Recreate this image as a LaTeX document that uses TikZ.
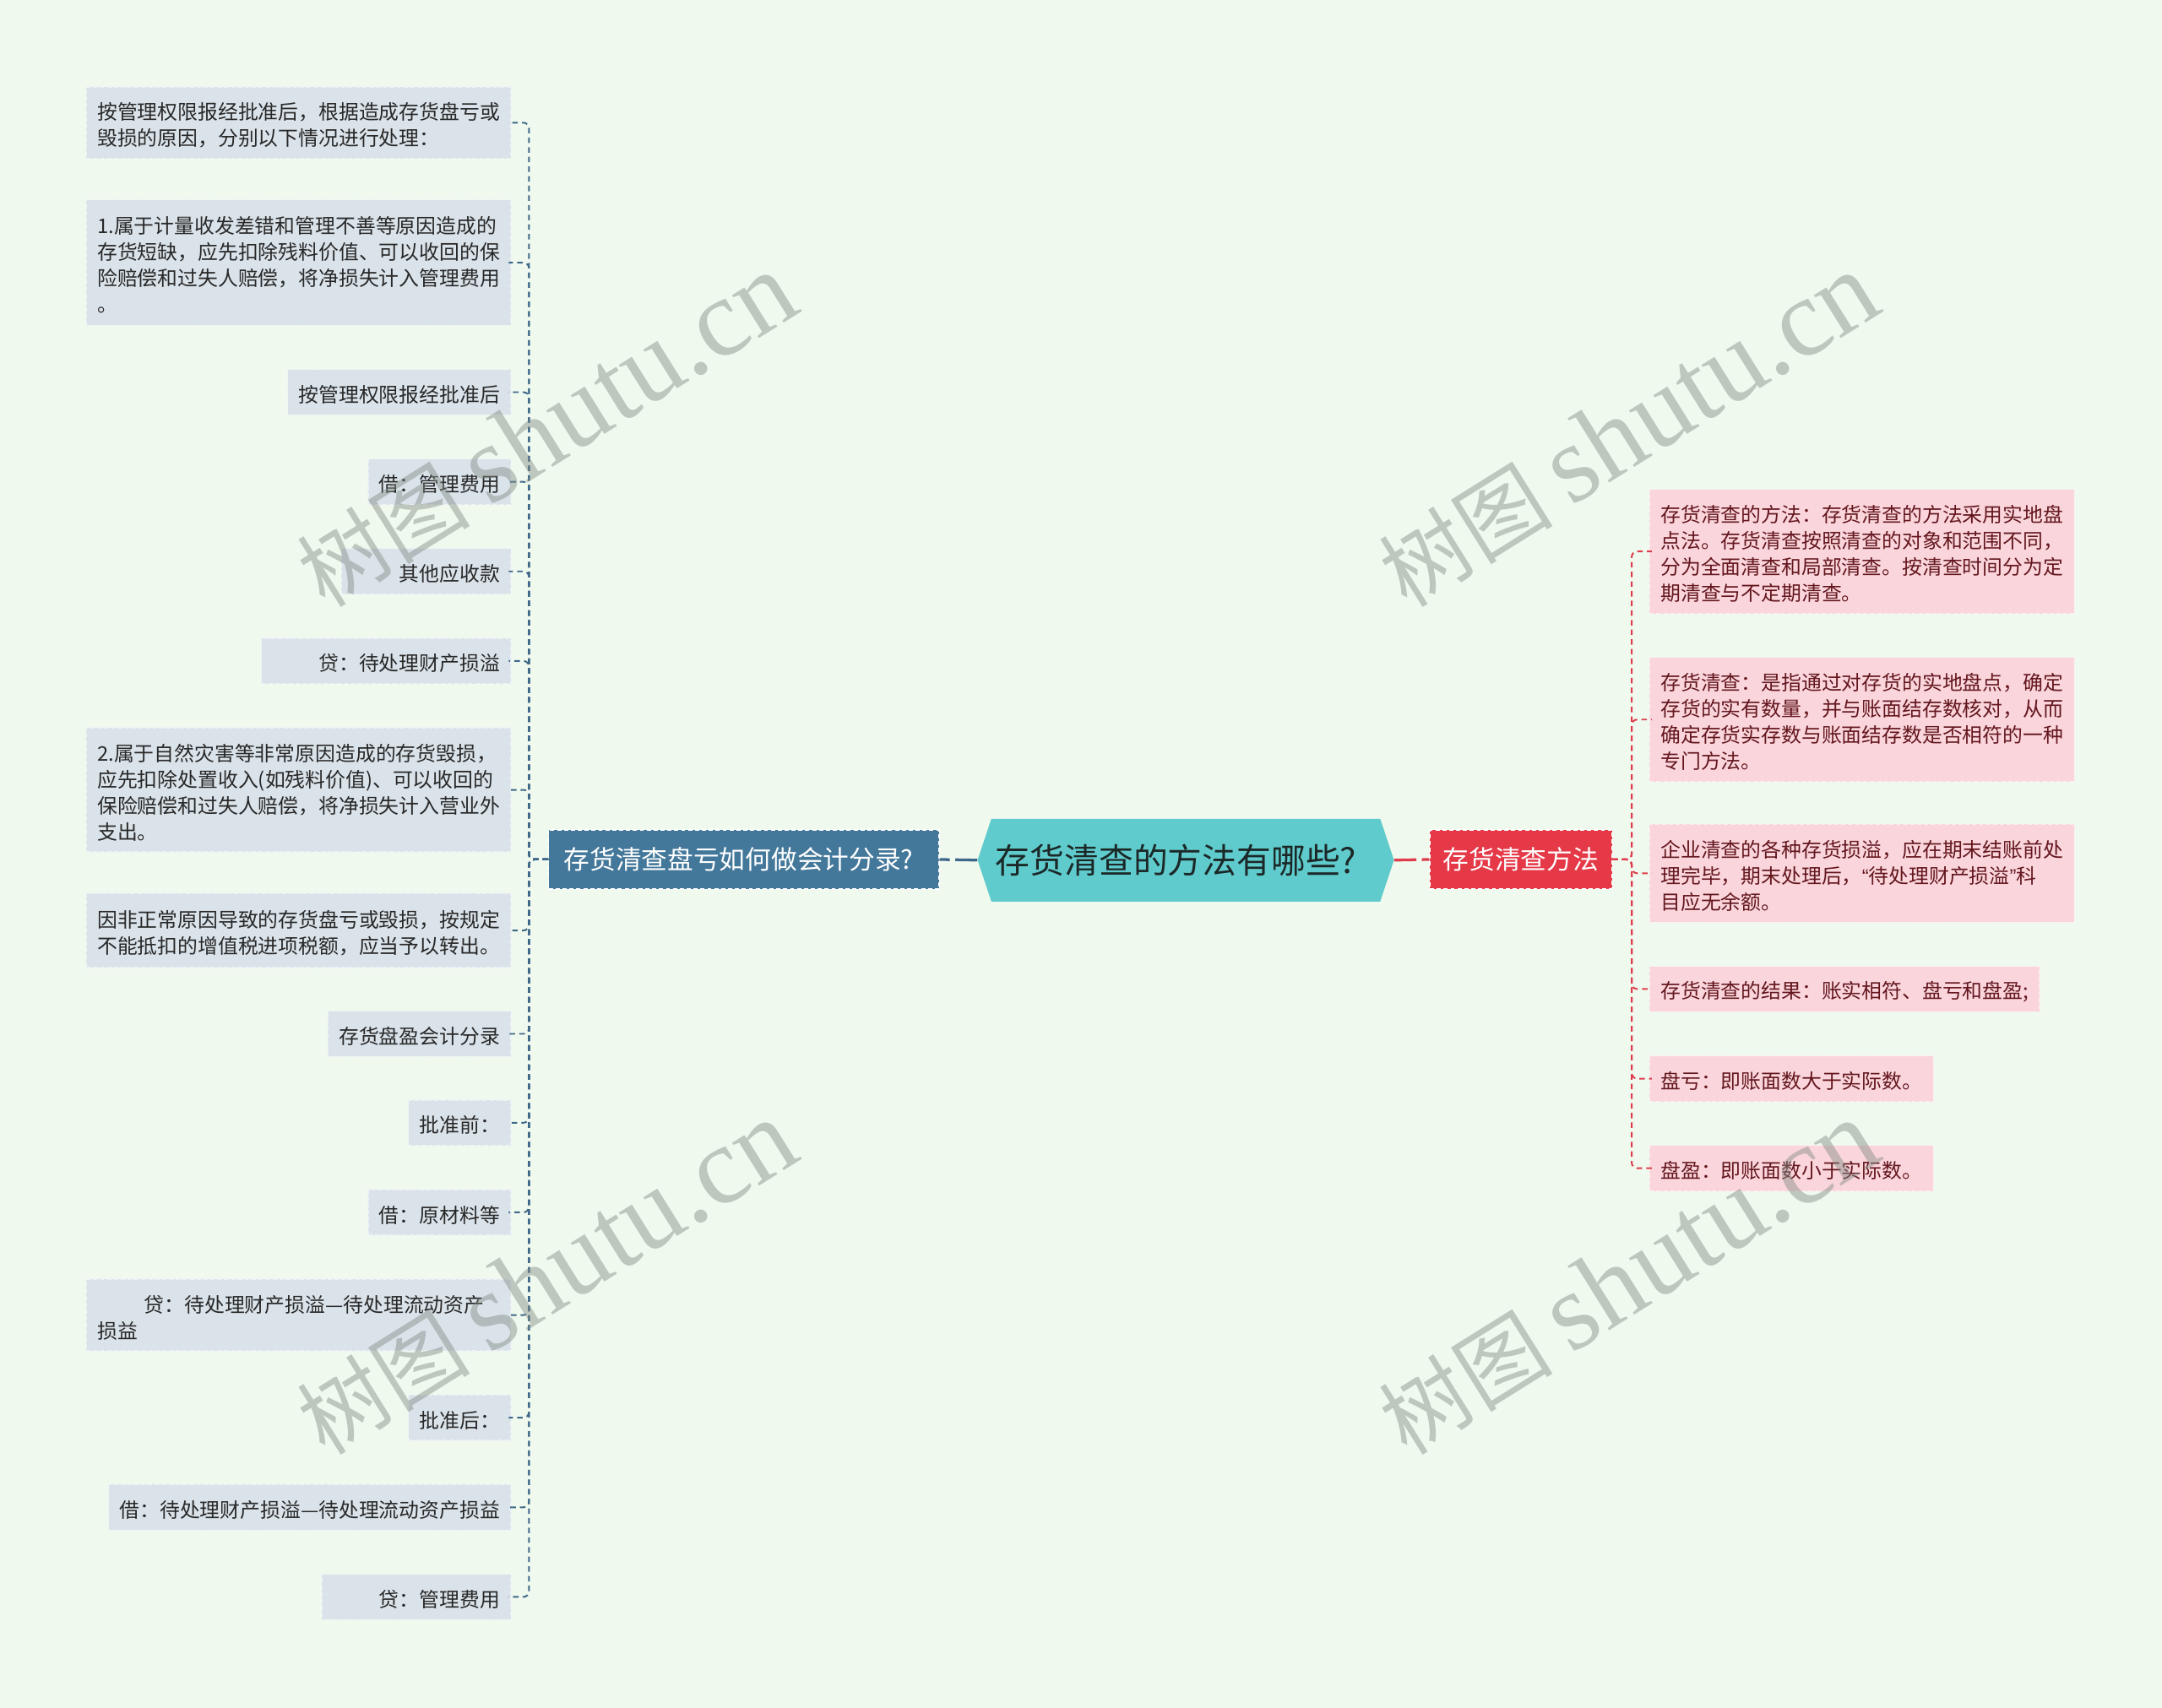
\documentclass[tikz,border=0pt]{standalone}
\usepackage{fontspec}
\setmainfont{Noto Sans CJK SC}
\newfontfamily\wmserif{Liberation Serif}
\newfontfamily\latq{Liberation Sans}
\definecolor{bg}{RGB}{240,249,238}
\definecolor{lfill}{RGB}{218,227,234}
\definecolor{ltext}{RGB}{40,40,40}
\definecolor{lmain}{RGB}{68,120,155}
\definecolor{lconn}{RGB}{62,104,138}
\definecolor{rootc}{RGB}{96,203,204}
\definecolor{roottext}{RGB}{28,40,40}
\definecolor{rmain}{RGB}{229,57,72}
\definecolor{rfill}{RGB}{250,214,220}
\definecolor{rtext}{RGB}{100,22,30}
\definecolor{rconn}{RGB}{222,60,76}
\definecolor{wmc}{RGB}{130,140,130}
\newcommand{\st}{\rule{0pt}{16pt}}
\newcommand{\wmtext}{\fontsize{63}{63}\selectfont 树图 {\wmserif\fontsize{80}{80}\selectfont shutu.cn}}
\begin{document}
\begin{tikzpicture}[x=1pt,y=-1pt,
  box/.style={dash pattern=on 3pt off 2pt, line width=0.8pt, inner xsep=8pt, inner ysep=0pt, minimum height=33pt, font=\fontsize{14.6}{19}\selectfont},
  lbox/.style={box, fill=lfill, draw=white!55!lfill, text=ltext, anchor=east},
  rbox/.style={box, fill=rfill, draw=white!55!rfill, text=rtext, anchor=west},
  multi/.style={text width=292pt, align=left},
  mainbox/.style={draw=white, dash pattern=on 3pt off 2pt, line width=0.8pt, text=white, font=\fontsize{18.8}{22}\selectfont, minimum height=43pt, inner ysep=0pt},
  lline/.style={draw=lconn, line width=1.2pt, dash pattern=on 4pt off 3pt, rounded corners=4pt},
  rline/.style={draw=rconn, line width=1.2pt, dash pattern=on 4pt off 3pt, rounded corners=4pt},
  wm/.style={text=wmc, opacity=0.45, rotate=32, inner sep=0pt}
]
\useasboundingbox (0,0) rectangle (1568,1239);
\fill[bg] (0,0) rectangle (1568,1239);

% root
\node[minimum width=302pt, minimum height=60pt, inner xsep=13pt, inner ysep=0pt, text width=276pt, align=left, text=roottext,
  font=\fontsize{25}{28}\selectfont,
  path picture={\fill[rootc] (path picture bounding box.west) -- ([xshift=10pt]path picture bounding box.north west) -- ([xshift=-10pt]path picture bounding box.north east) -- (path picture bounding box.east) -- ([xshift=-10pt]path picture bounding box.south east) -- ([xshift=10pt]path picture bounding box.south west) -- cycle;}]
  (root) at (860,624) {存货清查的方法有哪些?};

% main branches
\node[mainbox, fill=lmain, inner xsep=11pt, text width=261pt, align=left] (lm) at (539.5,623.5) {存货清查盘亏如何做会计分录?};
\node[mainbox, fill=rmain, minimum width=132pt, inner xsep=0pt] (rm) at (1103,623.5) {存货清查方法};

% left children
\node[lbox, multi, minimum height=52pt] (l1) at (371,89) {\st 按管理权限报经批准后，根据造成存货盘亏或\\毁损的原因，分别以下情况进行处理：};
\node[lbox, multi, minimum height=91pt] (l2) at (371,190.5) {\st 1.属于计量收发差错和管理不善等原因造成的\\存货短缺，应先扣除残料价值、可以收回的保\\险赔偿和过失人赔偿，将净损失计入管理费用\\。};
\node[lbox] (l3) at (371,284.5) {\st 按管理权限报经批准后};
\node[lbox] (l4) at (371,349.5) {\st 借：管理费用};
\node[lbox, text width=107pt, align=right] (l5) at (371,414.5) {\st 其他应收款};
\node[lbox, text width=165pt, align=right] (l6) at (371,479.5) {\st 贷：待处理财产损溢};
\node[lbox, multi, minimum height=90pt] (l7) at (371,573) {\st 2.属于自然灾害等非常原因造成的存货毁损，\\应先扣除处置收入(如残料价值)、可以收回的\\保险赔偿和过失人赔偿，将净损失计入营业外\\支出。};
\node[lbox, multi, minimum height=54pt] (l8) at (371,675) {\st 因非正常原因导致的存货盘亏或毁损，按规定\\不能抵扣的增值税进项税额，应当予以转出。};
\node[lbox] (l9) at (371,750) {\st 存货盘盈会计分录};
\node[lbox] (l10) at (371,814.5) {\st 批准前：};
\node[lbox] (l11) at (371,879.5) {\st 借：原材料等};
\node[lbox, multi, minimum height=52pt] (l12) at (371,954) {\st\hspace*{34pt}贷：待处理财产损溢—待处理流动资产\\损益};
\node[lbox] (l13) at (371,1028.5) {\st 批准后：};
\node[lbox] (l14) at (371,1093.5) {\st 借：待处理财产损溢—待处理流动资产损益};
\node[lbox, text width=121pt, align=right] (l15) at (371,1158.5) {\st 贷：管理费用};

% right children
\node[rbox, multi, minimum height=90pt] (r1) at (1196,400) {\st 存货清查的方法：存货清查的方法采用实地盘\\点法。存货清查按照清查的对象和范围不同，\\分为全面清查和局部清查。按清查时间分为定\\期清查与不定期清查。};
\node[rbox, multi, minimum height=90pt] (r2) at (1196,522) {\st 存货清查：是指通过对存货的实地盘点，确定\\存货的实有数量，并与账面结存数核对，从而\\确定存货实存数与账面结存数是否相符的一种\\专门方法。};
\node[rbox, multi, minimum height=71pt] (r3) at (1196,633.5) {\st 企业清查的各种存货损溢，应在期末结账前处\\理完毕，期末处理后，{\latq “}待处理财产损溢{\latq ”}科\\目应无余额。};
\node[rbox] (r4) at (1196,717.5) {\st 存货清查的结果：账实相符、盘亏和盘盈;};
\node[rbox] (r5) at (1196,782.5) {\st 盘亏：即账面数大于实际数。};
\node[rbox] (r6) at (1196,847.5) {\st 盘盈：即账面数小于实际数。};

% connectors
\draw[draw=lconn, line width=2pt, dash pattern=on 16pt off 4pt] (root.west) -- (lm.east);
\draw[draw=rconn, line width=2pt, dash pattern=on 16pt off 4pt] (root.east) -- (rm.west);
\foreach \n in {l1,l2,l3,l4,l5,l6,l7,l8,l9,l10,l11,l12,l13,l14,l15}
  \draw[lline] (lm.west) -- ++(-14,0) |- ([xshift=-2pt]\n.east);
\foreach \n in {r1,r2,r3,r4,r5,r6}
  \draw[rline] (rm.east) -- ++(14,0) |- ([xshift=2pt]\n.west);

% watermarks
\node[wm] (wm1) at (396,312) {\wmtext};
\node[wm] (wm2) at (1181,312) {\wmtext};
\node[wm] (wm3) at (396,927) {\wmtext};
\node[wm] (wm4) at (1181,927) {\wmtext};
\end{tikzpicture}
\end{document}
